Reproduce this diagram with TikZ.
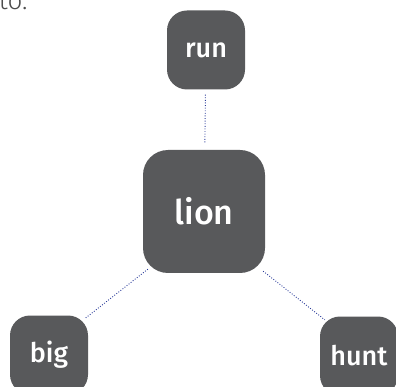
\documentclass[tikz,border=0pt]{standalone}
\usepackage{fontspec}
\usetikzlibrary{calc}
\newfontfamily\wordfont{Fira Sans Medium}
\newfontfamily\lightfont{Fira Sans Light}
\definecolor{boxgray}{HTML}{58595B}
\definecolor{linkblue}{HTML}{2B3C9A}
\tikzset{
  word/.style = {fill = boxgray, text = white, rounded corners = 20pt, inner sep = 0pt,
                 minimum width = 78pt, minimum height = 79pt, font = \wordfont\fontsize{27}{27}\selectfont},
  link/.style = {linkblue, line width = .9pt, dash pattern = on .9pt off 1.7pt}
}
\begin{document}
\begin{tikzpicture}[x = 1pt, y = -1pt]
        \useasboundingbox (0, 0) rectangle (396, 387);
        \node [anchor = base east, text = black!70, font = \lightfont\fontsize{26}{26}\selectfont] (cut) at (31, 10) {nto.};
        \node [word] (run) at (206, 50) {run};
        \node [word, minimum width = 122pt, minimum height = 123pt, rounded corners = 25pt,
               font = \wordfont\fontsize{34}{34}\selectfont] (lion) at (204, 211.5) {lion};
        \node [word] (big) at (49, 355) {big};
        \node [word] (hunt) at (359, 356) {hunt};
        \draw [link, shorten < = 5pt, shorten > = 7pt] (run) -- (lion);
        \draw [link] ($(lion.south west) + (5, -4)$) -- ($(big.north east) + (-3, 3)$);
        \draw [link] ($(lion.south east) + (-2, -2)$) -- ($(hunt.north west) + (5, 3.5)$);
\end{tikzpicture}
\end{document}
